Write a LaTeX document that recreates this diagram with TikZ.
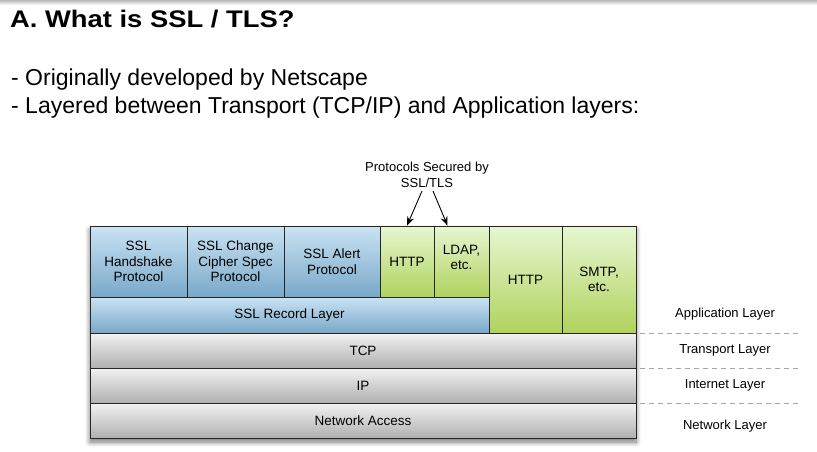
\documentclass[tikz,border=0pt]{standalone}
\usepackage{fontspec}
\setmainfont{Liberation Sans}
\newfontfamily\titlefont[FakeStretch=1.14]{Liberation Sans}
\usetikzlibrary{arrows.meta,shadows.blur}
\definecolor{bluetop}{HTML}{CBE3F4}
\definecolor{bluebot}{HTML}{78A8C8}
\definecolor{greentop}{HTML}{E6F7D2}
\definecolor{greenbot}{HTML}{B0D25C}
\definecolor{graytop}{HTML}{F2F2F2}
\definecolor{graybot}{HTML}{B0B0B0}
\definecolor{edge}{HTML}{262626}
\tikzset{
  box/.style={draw=edge, line width=0.9pt, inner sep=1pt, align=center, font=\fontsize{13.5}{15.5}\selectfont},
  bluebox/.style={box, top color=bluetop, bottom color=bluebot},
  greenbox/.style={box, top color=greentop, bottom color=greenbot},
  graybox/.style={box, top color=graytop, bottom color=graybot},
  layerlbl/.style={font=\fontsize{13}{15}\selectfont, anchor=center},
  sep/.style={draw=gray!70, dash pattern=on 5pt off 4pt, line width=0.8pt},
  arr/.style={-{Stealth[length=9pt,width=7pt]}, line width=0.9pt, draw=black}
}
\begin{document}
\begin{tikzpicture}[x=1pt,y=-1pt]
\useasboundingbox (0,0) rectangle (817,451);
\shade[top color=gray!55, bottom color=white] (0,0) rectangle (817,5);
% title and bullets
\node[anchor=base west, inner sep=0pt, font=\titlefont\bfseries\fontsize{24}{28}\selectfont] (title) at (10,27.5) {A. What is SSL / TLS?};
\node[anchor=base west, inner sep=0pt, font=\fontsize{23}{27}\selectfont] (b1) at (11,85) {- Originally developed by Netscape};
\node[anchor=base west, inner sep=0pt, font=\fontsize{23}{27}\selectfont] (b2) at (11,113) {- Layered between Transport (TCP/IP) and Application layers:};
% shadow backdrop
\fill[white, blur shadow={shadow xshift=0pt, shadow yshift=-4pt, shadow blur steps=10, shadow blur radius=5pt, shadow opacity=55}] (90,226) rectangle (636,438);
% top row
\node[bluebox, minimum width=97pt, minimum height=71pt] (hs) at (138.5,261.5) {SSL\\Handshake\\Protocol};
\node[bluebox, minimum width=97pt, minimum height=71pt] (ccs) at (235.5,261.5) {SSL Change\\Cipher Spec\\Protocol};
\node[bluebox, minimum width=96pt, minimum height=71pt] (alert) at (332,261.5) {SSL Alert\\Protocol};
\node[greenbox, minimum width=54pt, minimum height=71pt] (http1) at (407,261.5) {HTTP};
\node[greenbox, minimum width=55pt, minimum height=71pt, text depth=8pt] (ldap) at (461.5,261.5) {LDAP,\\etc.};
\node[bluebox, minimum width=399pt, minimum height=36pt] (rec) at (289.5,315) {SSL Record Layer};
\node[greenbox, minimum width=73pt, minimum height=107pt] (http2) at (525.5,279.5) {HTTP};
\node[greenbox, minimum width=74pt, minimum height=107pt] (smtp) at (599,279.5) {SMTP,\\etc.};
\node[graybox, minimum width=546pt, minimum height=35pt] (tcp) at (363,350.5) {TCP};
\node[graybox, minimum width=546pt, minimum height=35pt] (ip) at (363,385.5) {IP};
\node[graybox, minimum width=546pt, minimum height=35pt] (net) at (363,420.5) {Network Access};
% annotation
\node[align=center, font=\fontsize{13}{16}\selectfont] (sec) at (427,175) {Protocols Secured by\\SSL/TLS};
\coordinate (a1s) at (422,191);
\coordinate (a2s) at (433,191);
\draw[arr] (a1s) -- (http1.north);
\draw[arr] (a2s) -- ([xshift=-14pt]ldap.north);
% layer labels
\coordinate (d1a) at (640,333); \coordinate (d1b) at (800,333);
\coordinate (d2a) at (640,368); \coordinate (d2b) at (800,368);
\coordinate (d3a) at (640,403); \coordinate (d3b) at (800,403);
\draw[sep] (d1a) -- (d1b);
\draw[sep] (d2a) -- (d2b);
\draw[sep] (d3a) -- (d3b);
\node[layerlbl] (lapp) at (725,314) {Application Layer};
\node[layerlbl] (ltr) at (725,350) {Transport Layer};
\node[layerlbl] (lin) at (725,385) {Internet Layer};
\node[layerlbl] (lnet) at (725,426) {Network Layer};
\end{tikzpicture}
\end{document}
